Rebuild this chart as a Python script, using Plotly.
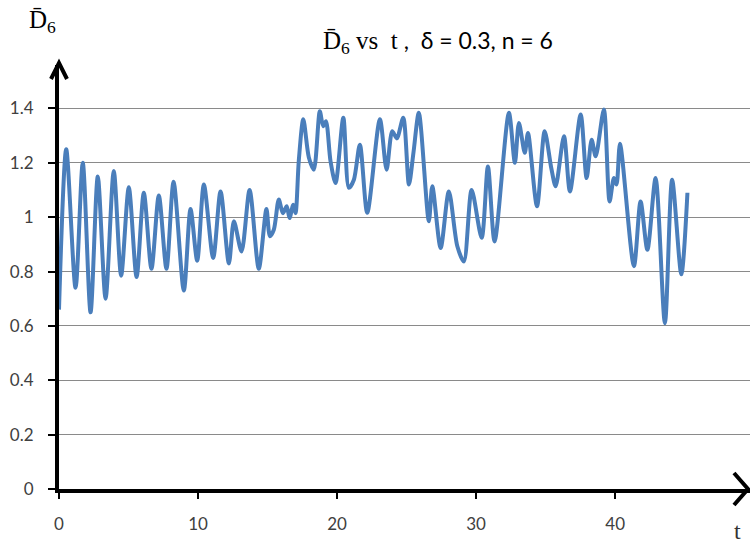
import plotly.graph_objects as go

# Data (local extrema of the curve)
t_vals = [0.0, 0.52, 1.19, 1.71, 2.27, 2.79, 3.35, 3.94, 4.47, 5.02, 5.58, 6.10, 6.65, 7.18, 7.73,
          8.24, 8.98, 9.46, 9.94, 10.42, 11.09, 11.62, 12.22, 12.58, 13.13, 13.71, 14.37, 14.92,
          15.17, 15.45, 15.81, 16.10, 16.38, 16.58, 16.85, 17.01, 17.25, 17.57, 17.97, 18.33,
          18.76, 19.00, 19.20, 19.53, 19.89, 20.45, 20.85, 21.21, 21.64, 22.17, 23.08, 23.56,
          23.97, 24.30, 24.76, 25.17, 25.50, 25.88, 26.60, 26.85, 27.45, 28.04, 28.65, 29.12,
          29.68, 30.40, 30.85, 31.33, 32.36, 32.79, 33.08, 33.50, 33.73, 34.38, 34.93, 35.41,
          35.72, 36.32, 36.75, 37.52, 37.95, 38.31, 38.60, 39.19, 39.60, 39.91, 40.10, 40.35,
          41.35, 41.83, 42.32, 42.91, 43.58, 44.10, 44.76, 45.20]
d_vals = [0.66, 1.25, 0.74, 1.20, 0.65, 1.15, 0.70, 1.17, 0.785, 1.11, 0.78, 1.09, 0.81, 1.08, 0.81,
          1.13, 0.73, 1.03, 0.84, 1.12, 0.85, 1.095, 0.83, 0.985, 0.874, 1.10, 0.81, 1.03,
          0.93, 0.954, 1.065, 1.015, 1.04, 0.997, 1.046, 1.015, 1.21, 1.36, 1.22, 1.175,
          1.39, 1.335, 1.353, 1.206, 1.126, 1.366, 1.108, 1.138, 1.267, 1.016, 1.36, 1.175,
          1.316, 1.29, 1.366, 1.12, 1.24, 1.384, 0.985, 1.114, 0.887, 1.095, 0.893, 0.837,
          1.10, 0.924, 1.187, 0.911, 1.384, 1.20, 1.347, 1.237, 1.31, 1.04, 1.316, 1.18,
          1.114, 1.298, 1.095, 1.378, 1.144, 1.285, 1.224, 1.396, 1.058, 1.144, 1.12, 1.27,
          0.82, 1.058, 0.88, 1.144, 0.61, 1.138, 0.79, 1.09]

y_ticks = [0, 0.2, 0.4, 0.6, 0.8, 1.0, 1.2, 1.4]
y_tick_text = ["0", "0.2", "0.4", "0.6", "0.8", "1", "1.2", "1.4"]
x_ticks = [0, 10, 20, 30, 40]
x_tick_text = ["0", "10", "20", "30", "40"]

LABEL_FONT = dict(family="Lato, 'Open Sans', sans-serif", size=17, color="#404040")

fig = go.Figure()
fig.add_trace(go.Scatter(
    x=t_vals, y=d_vals, mode="lines",
    line=dict(color="#4A7EBB", width=4, shape="spline", smoothing=0.8),
    hoverinfo="skip", showlegend=False,
))

fig.update_layout(
    width=750, height=546,
    margin=dict(l=59, r=0, t=65, b=57),
    paper_bgcolor="white", plot_bgcolor="white",
    showlegend=False,
    xaxis=dict(
        range=[0, 49.7], tickvals=x_ticks, ticktext=x_tick_text,
        showgrid=False, zeroline=False,
        showline=True, linecolor="black", linewidth=4,
        ticks="outside", ticklen=6, tickwidth=2, tickcolor="black",
        ticklabelstandoff=11, tickfont=LABEL_FONT,
    ),
    yaxis=dict(
        range=[0, 1.56], tickvals=y_ticks, ticktext=y_tick_text,
        showgrid=True, gridcolor="#8a8a8a", gridwidth=1.2,
        zeroline=False,
        showline=True, linecolor="black", linewidth=4,
        ticks="outside", ticklen=7, tickwidth=2, tickcolor="black",
        ticklabelstandoff=11, tickfont=LABEL_FONT,
    ),
    shapes=[
        # arrowhead at the end of the t axis
        dict(type="path", xref="paper", yref="paper", xsizemode="pixel", ysizemode="pixel",
             xanchor=1, yanchor=0, path="M -16,16 L -2,0 L -16,-16",
             line=dict(color="black", width=4)),
        # arrowhead at the top of the D axis
        dict(type="path", xref="paper", yref="paper", xsizemode="pixel", ysizemode="pixel",
             xanchor=0, yanchor=1, path="M -8,-14 L 0,2 L 8,-14",
             line=dict(color="black", width=4)),
    ],
    annotations=[
        dict(text="<span style='font-family:Liberation Serif;font-size:25px'>D\u0304<sub>6</sub> vs  t</span> ,  δ = 0.3, n = 6",
             xref="paper", yref="paper", x=0.548, y=1.0, yshift=23, xanchor="center", yanchor="middle",
             showarrow=False, font=dict(family="Lato, sans-serif", size=23, color="black")),
        dict(text="D\u0304<sub>6</sub>", xref="paper", yref="paper", x=0, xshift=-17, y=1.0, yshift=44,
             xanchor="center", yanchor="middle", showarrow=False,
             font=dict(family="Liberation Serif, serif", size=25, color="black")),
        dict(text="t", xref="paper", yref="paper", x=1.0, xshift=-13, y=0, yshift=-42,
             xanchor="center", yanchor="middle", showarrow=False,
             font=dict(family="Liberation Serif, serif", size=24, color="#333333")),
    ],
)

fig.write_html("out.html")
